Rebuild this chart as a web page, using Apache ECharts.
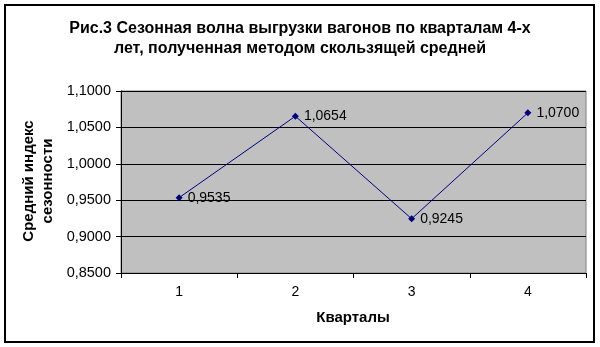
<!DOCTYPE html>
<html><head><meta charset="utf-8">
<script src="https://cdn.jsdelivr.net/npm/echarts@6/dist/echarts.min.js"></script>
<style>html,body{margin:0;padding:0;background:#fff}#c{width:600px;height:347px}</style>
</head><body><div id="c"></div>
<script>
const categories = ['1', '2', '3', '4'];
const values = [0.9535, 1.0654, 0.9245, 1.0700];
const yTicks = [0.85, 0.90, 0.95, 1.00, 1.05, 1.10];
const titleLines = ['Рис.3 Сезонная волна выгрузки вагонов по кварталам 4-х', 'лет, полученная методом скользящей средней'];
const yTitle = 'Средний индекс\nсезонности';
const xTitle = 'Кварталы';

const fmt = v => v.toFixed(4).replace('.', ',');
const F = '"Liberation Sans", Arial, sans-serif';
const chart = echarts.init(document.getElementById('c'));
chart.setOption({
  animation: false,
  graphic: [
    {type: 'rect', shape: {x: 5, y: 5, width: 589, height: 337}, style: {fill: '#fff', stroke: '#000', lineWidth: 2}, z: -9},
    {type: 'rect', shape: {x: 121, y: 91, width: 465, height: 182}, style: {fill: '#C0C0C0', stroke: '#808080', lineWidth: 1}, z: -5},
    {type: 'text', x: 300, y: 19, style: {text: titleLines.join('\n'), font: 'bold 16px ' + F, fill: '#000', align: 'center', lineHeight: 20}},
    {type: 'text', x: 38, y: 181, rotation: Math.PI / 2, style: {text: yTitle, font: 'bold 15px ' + F, fill: '#000', align: 'center', verticalAlign: 'middle', lineHeight: 19}},
    {type: 'text', x: 353, y: 318, style: {text: xTitle, font: 'bold 15px ' + F, fill: '#000', align: 'center', verticalAlign: 'middle'}}
  ],
  grid: {left: 121, top: 91, width: 465, height: 182, containLabel: false},
  xAxis: {
    type: 'category', data: categories, boundaryGap: true,
    axisLine: {lineStyle: {color: '#000', width: 1}},
    axisTick: {show: true, length: 5, inside: false, lineStyle: {color: '#000'}},
    axisLabel: {color: '#000', fontFamily: F, fontSize: 14, margin: 12}
  },
  yAxis: {
    type: 'value', min: yTicks[0], max: yTicks[yTicks.length - 1], interval: 0.05,
    axisLine: {show: true, lineStyle: {color: '#000', width: 1}},
    axisTick: {show: true, length: 5, lineStyle: {color: '#000'}},
    axisLabel: {color: '#000', fontFamily: F, fontSize: 14.5, margin: 10, formatter: v => fmt(v)},
    splitLine: {show: true, lineStyle: {color: '#000', width: 1}}
  },
  series: [{
    type: 'line', data: values,
    symbol: 'diamond', symbolSize: 7,
    lineStyle: {color: '#000080', width: 1},
    itemStyle: {color: '#000080'},
    label: {show: true, position: 'right', distance: 5, color: '#000', fontFamily: F, fontSize: 14, formatter: p => fmt(p.value)}
  }]
});
</script></body></html>
